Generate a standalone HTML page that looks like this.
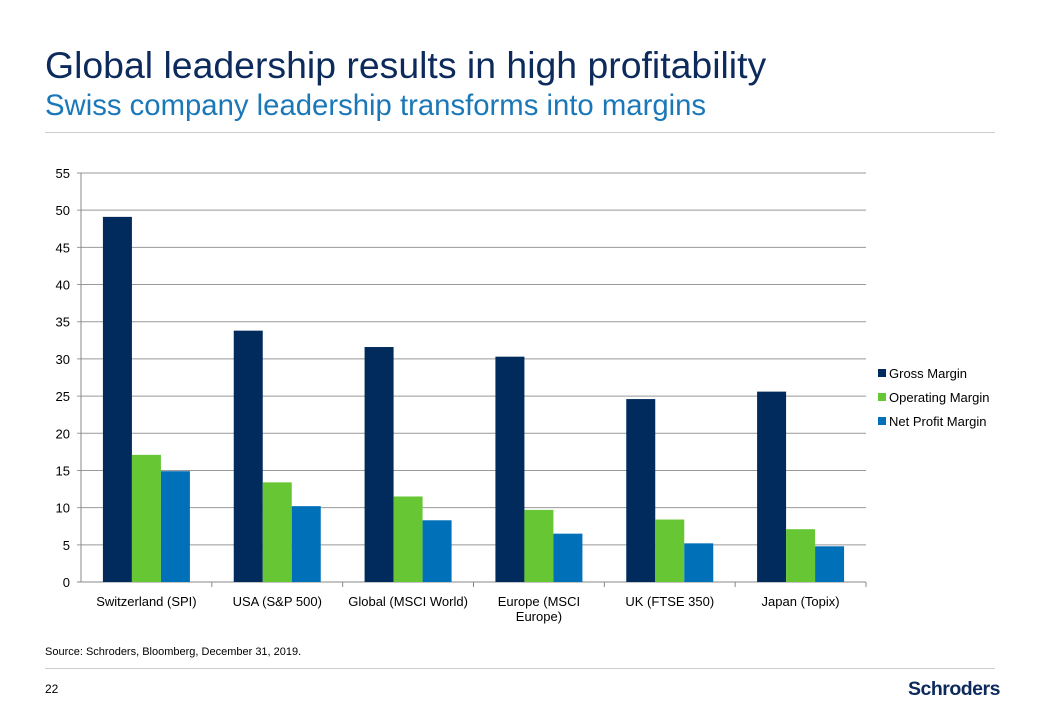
<!DOCTYPE html>
<html><head><meta charset="utf-8"><style>
body{margin:0;width:1040px;height:720px;background:#fff;font-family:"Liberation Sans",sans-serif;position:relative;overflow:hidden}
.t{position:absolute;white-space:nowrap}
</style></head><body>
<div class="t" style="left:45px;top:44px;font-size:37.4px;color:#0d2a5c">Global leadership results in high profitability</div>
<div class="t" style="left:45px;top:89px;font-size:29.3px;color:#1b78b8">Swiss company leadership transforms into margins</div>
<div style="position:absolute;left:45px;top:132px;width:950px;height:1px;background:#ccc"></div>
<svg id="chart" width="1040" height="720" style="position:absolute;left:0;top:0" font-family="Liberation Sans, sans-serif"></svg>
<div class="t" style="left:45px;top:646px;font-size:11px;color:#000">Source: Schroders, Bloomberg, December 31, 2019.</div>
<div style="position:absolute;left:45px;top:668px;width:950px;height:1px;background:#ccc"></div>
<div class="t" style="left:45px;top:682px;font-size:12px;color:#000">22</div>
<div class="t" style="left:908px;top:678px;font-size:19.5px;font-weight:bold;color:#0d2a5c;letter-spacing:-0.5px">Schroders</div>
<script>
const categories=["Switzerland (SPI)","USA (S&P 500)","Global (MSCI World)","Europe (MSCI|Europe)","UK (FTSE 350)","Japan (Topix)"];
const grossMargin=[49.1,33.8,31.6,30.3,24.6,25.6];
const operatingMargin=[17.1,13.4,11.5,9.7,8.4,7.1];
const netProfitMargin=[14.9,10.2,8.3,6.5,5.2,4.8];
const yTicks=[0,5,10,15,20,25,30,35,40,45,50,55];
const seriesNames=["Gross Margin","Operating Margin","Net Profit Margin"];
const colors=["#002b5c","#66c633","#0071b9"];
const svg=document.getElementById('chart');const NS="http://www.w3.org/2000/svg";
const X0=81,X1=866,Y0=582,Y1=173,YMAX=55;
const y=v=>Y0-(v/YMAX)*(Y0-Y1);
const cw=(X1-X0)/categories.length;const bw=29;
function mk(t,a){const e=document.createElementNS(NS,t);for(const k in a)e.setAttribute(k,a[k]);svg.appendChild(e);return e;}
yTicks.forEach(v=>{
 const l=mk('line',{x1:X0-4,x2:X1,y1:y(v),y2:y(v),stroke:v==0?'#888':'#999','stroke-width':1});
 
 
 const t=mk('text',{x:X0-11,y:y(v)+5,'text-anchor':'end','font-size':13,fill:'#000'});t.textContent=v;
 
 
});
const ax=mk('line',{x1:X0,x2:X0,y1:Y1,y2:Y0,stroke:'#888'});


const series=[grossMargin,operatingMargin,netProfitMargin];
categories.forEach((c,i)=>{
 const cx=X0+cw*(i+0.5);
 const tk=mk('line',{x1:X0+cw*(i+1),x2:X0+cw*(i+1),y1:Y0,y2:Y0+5,stroke:'#888'});
 
 
 series.forEach((s,j)=>{
  const r=mk('rect',{x:cx-1.5*bw+j*bw,y:y(s[i]),width:bw,height:Y0-y(s[i]),fill:colors[j]});
  
  
 });
 c.split('|').forEach((ln,k)=>{
  const t=mk('text',{x:cx,y:606+k*15,'text-anchor':'middle','font-size':13,fill:'#000'});t.textContent=ln;
  
  
 });
});
seriesNames.forEach((n,j)=>{
 const r=mk('rect',{x:878,y:369+j*24,width:8,height:8,fill:colors[j]});
 
 
 const t=mk('text',{x:889,y:378+j*24,'font-size':13,fill:'#000'});t.textContent=n;
 
 
});
</script>
</body></html>
